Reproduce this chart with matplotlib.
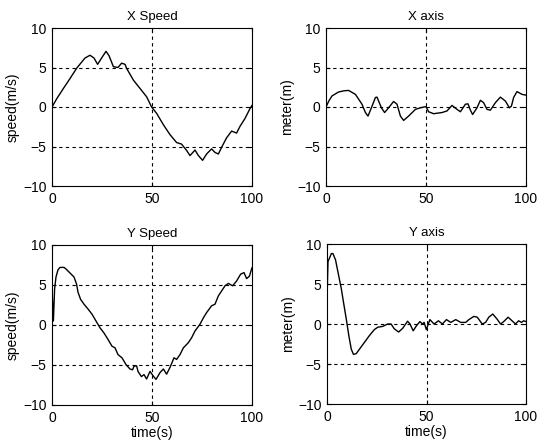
import matplotlib
matplotlib.use("Agg")
import matplotlib.pyplot as plt

plt.rcParams['font.family'] = ['Liberation Sans', 'DejaVu Sans']
plt.rcParams['font.size'] = 9

# X speed (m/s)
xs_t = [0, 2.5, 5.7, 9, 12.3, 16.5, 19, 21, 22.8, 24.8, 27, 28.5, 30.7, 33, 34.8,
        36.5, 37.3, 40.7, 44, 47.3, 49.8, 52.3, 55.7, 59, 62.3, 64.8, 67.3, 69,
        71.5, 73.2, 75.3, 77.3, 79.8, 81.5, 83.2, 84.8, 87.3, 89.8, 92.3, 94,
        96.5, 99, 100]
xs_v = [0, 1.1, 2.35, 3.6, 4.9, 6.2, 6.55, 6.2, 5.4, 6.2, 7.05, 6.5, 5.1, 5.0, 5.55,
        5.4, 4.9, 3.4, 2.35, 1.3, 0, -0.8, -2.25, -3.5, -4.5, -4.7, -5.5, -6.15,
        -5.45, -6.15, -6.75, -5.95, -5.3, -5.75, -5.95, -5.1, -3.9, -3.05, -3.3,
        -2.45, -1.45, -0.2, 0.2]

# X position error (m)
xp_t = [0, 1.5, 3, 6.3, 9, 11.3, 14.7, 18, 19.7, 21, 22.7, 24.7, 25.5, 27.7, 29.3,
        31.3, 33.8, 35.5, 37.2, 38.8, 41.3, 44.7, 47.2, 50, 51.3, 53.8, 58, 60.5,
        63, 65.5, 67.2, 69.7, 71, 72.2, 73.3, 75.5, 77.2, 78.8, 80.5, 82.2, 84.7,
        87.2, 89.7, 91.7, 92.7, 93.8, 95.5, 98, 100]
xp_v = [0, 0.8, 1.4, 1.9, 2.05, 2.1, 1.6, 0.35, -0.7, -1.15, -0.1, 1.2, 1.25, -0.1,
        -0.7, -0.1, 0.7, 0.35, -1.15, -1.7, -1.15, -0.3, -0.1, 0.05, -0.6, -0.85,
        -0.7, -0.5, 0.2, -0.3, -0.6, 0.35, 0.4, -0.4, -0.95, -0.1, 0.85, 0.55,
        -0.3, -0.4, 0.55, 1.25, 0.75, -0.1, 0.1, 1.2, 1.95, 1.6, 1.5]

# Y speed (m/s)
ys_t = [0, 0.7, 1.3, 2, 3, 4, 6, 7, 9, 11, 12.3, 13, 14.3, 16, 18, 20, 22, 24, 26,
        28, 30, 31.5, 33, 35, 37, 39, 40.3, 41, 42.3, 43, 44.7, 46, 47.3, 49, 50.7,
        52, 54, 55.7, 57.3, 59, 61, 62.3, 64, 65.7, 68.2, 69.8, 71.5, 74, 75.7,
        77.3, 79.8, 81.5, 83.2, 84.8, 86.5, 88.2, 90.3, 92.3, 94.3, 96, 97.3,
        98.7, 100]
ys_v = [4.5, 0.5, 4.5, 6.0, 6.9, 7.2, 7.2, 7.0, 6.5, 6.0, 5.1, 4.1, 3.2, 2.6, 2.0,
        1.35, 0.5, -0.35, -1.0, -1.8, -2.65, -2.85, -3.7, -4.1, -4.95, -5.5, -5.6,
        -5.15, -5.1, -5.8, -6.45, -6.2, -6.75, -5.8, -6.4, -6.8, -5.95, -5.5,
        -6.15, -5.3, -4.1, -4.3, -3.7, -2.85, -2.2, -1.6, -0.75, 0.1, 0.9, 1.55,
        2.4, 2.6, 3.65, 4.25, 4.9, 5.2, 4.9, 5.5, 6.35, 6.55, 5.8, 6.1, 7.15]

# Y position error (m)
yp_t = [0, 0.5, 2.2, 3, 4.3, 5.5, 7.2, 8.3, 9.7, 11, 12.2, 13.3, 14.7, 16.3, 18.8,
        21.3, 23.8, 25.5, 28, 30.5, 32.2, 33.8, 36, 38, 40.5, 41.7, 43.3, 45, 46.7,
        48, 48.8, 49.9, 51.7, 53.8, 56, 58, 60, 62.2, 64.7, 67.2, 69.7, 71.3, 73.8,
        75.5, 78, 79.7, 81.3, 83.3, 85.5, 87.2, 88.8, 91, 93, 94.7, 96.3, 97.7,
        98.8, 100]
yp_v = [3, 7.8, 8.8, 8.8, 8.0, 6.5, 4.4, 2.7, 0.6, -1.5, -3.15, -3.8, -3.7, -3.15,
        -2.3, -1.45, -0.7, -0.4, -0.3, 0, 0, -0.6, -1.0, -0.55, 0.35, 0, -0.85,
        -0.2, 0.3, 0, 0.2, -0.7, 0.55, 0, 0.4, 0, 0.55, 0.2, 0.55, 0.2, 0.2, 0.55,
        0.95, 0.85, 0, 0.2, 0.85, 1.25, 0.6, 0, 0.3, 0.85, 0.4, 0, 0.4, 0.2, 0.4,
        0.3]

x_ticks = [0, 50, 100]
y_ticks = [-10, -5, 0, 5, 10]

panels = [
    (xs_t, xs_v, "X Speed", "speed(m/s)", False),
    (xp_t, xp_v, "X axis", "meter(m)", False),
    (ys_t, ys_v, "Y Speed", "speed(m/s)", True),
    (yp_t, yp_v, "Y axis", "meter(m)", True),
]

W, H = 537, 445
# axes boxes in pixels: left, top, right, bottom
boxes = [(52, 28, 252, 186), (326, 28, 526, 186),
         (52, 245, 252, 405), (327, 244, 526, 404)]

fig = plt.figure(figsize=(W / 100, H / 100), dpi=100)

for (t, v, title, ylab, show_xlab), (l, tp, r, b) in zip(panels, boxes):
    ax = fig.add_axes([l / W, 1 - b / H, (r - l) / W, (b - tp) / H])
    ax.plot(t, v, color='black', lw=1.0)
    ax.set_xlim(0, 100)
    ax.set_ylim(-10, 10)
    ax.set_xticks(x_ticks)
    ax.set_yticks(y_ticks)
    for y in [-5, 0, 5]:
        ax.axhline(y, color='black', lw=0.8, ls=(0, (3, 3)), zorder=0)
    ax.axvline(50, color='black', lw=0.8, ls=(0, (3, 3)), zorder=0)
    ax.tick_params(direction='in', length=3, width=0.8, labelsize=10, pad=4,
                   top=True, right=True)
    for s in ax.spines.values():
        s.set_linewidth(0.8)
    ax.set_title(title, fontsize=9.5, pad=6)
    ax.set_ylabel(ylab, fontsize=10, labelpad=2)
    if show_xlab:
        ax.set_xlabel("time(s)", fontsize=10, labelpad=1)

fig.savefig("out.png", dpi=100)
